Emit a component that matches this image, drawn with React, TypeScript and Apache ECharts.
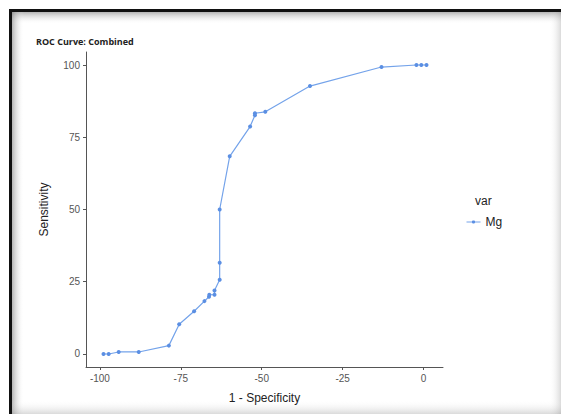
import React, { useEffect, useRef } from "react";
import * as echarts from "echarts";

const specificity = [-98.9, -97.3, -94.2, -88.0, -78.7, -75.5, -70.9, -67.7, -66.3, -66.2, -64.6, -64.6, -63.0, -63.0, -63.0, -59.9, -53.6, -52.1, -52.1, -48.9, -35.1, -13.0, -2.2, -0.7, 0.9];
const sensitivity = [0, 0, 0.7, 0.7, 2.9, 10.3, 14.8, 18.3, 19.8, 20.5, 20.5, 22.0, 25.7, 31.6, 50.0, 68.4, 78.7, 82.6, 83.3, 83.8, 92.7, 99.3, 100, 100, 100];
const xTicks = [-100, -75, -50, -25, 0];
const yTicks = [0, 25, 50, 75, 100];
const seriesName = "Mg";

export default function App() {
  const ref = useRef<HTMLDivElement>(null);
  useEffect(() => {
    document.body.style.margin = "0";
    const chart = echarts.init(ref.current!, null, { renderer: "svg" });
    const data = specificity.map((x, i) => [x, sensitivity[i]]);
    const lineColor = "#74a3ea";
    const grad = (x1: number, y1: number, x2: number, y2: number, c: string) =>
      new echarts.graphic.LinearGradient(x1, y1, x2, y2, [
        { offset: 0, color: c },
        { offset: 1, color: "rgba(255,255,255,0)" },
      ]);
    chart.setOption({
      animation: false,
      backgroundColor: "#ffffff",
      title: {
        text: "ROC Curve: Combined",
        left: 31,
        top: 32,
        textStyle: { fontFamily: "Open Sans", fontWeight: "bold", fontSize: 9, color: "#222" },
      },
      grid: { left: 86, right: 118, top: 52, bottom: 47 },
      legend: {
        data: [seriesName],
        left: 461,
        top: 211,
        itemWidth: 14,
        itemHeight: 4,
        itemGap: 4,
        lineStyle: { width: 1 },
        textStyle: { fontFamily: "Liberation Sans", fontSize: 12, color: "#222" },
      },
      xAxis: {
        type: "value",
        min: -104.3,
        max: 6,
        name: "1 - Specificity",
        nameLocation: "middle",
        nameGap: 25,
        nameTextStyle: { fontFamily: "Liberation Sans", fontSize: 12, color: "#222" },
        splitLine: { show: false },
        axisLine: { show: true, onZero: false, lineStyle: { color: "#555", width: 1 } },
        axisTick: { show: true, customValues: xTicks, length: 3, lineStyle: { color: "#555" } },
        axisLabel: { customValues: xTicks, fontFamily: "Liberation Sans", fontSize: 10, color: "#555", margin: 6 },
      },
      yAxis: {
        type: "value",
        min: -4.5,
        max: 104.5,
        name: "Sensitivity",
        nameLocation: "middle",
        nameGap: 36,
        nameRotate: 90,
        nameTextStyle: { fontFamily: "Liberation Sans", fontSize: 12, color: "#222" },
        splitLine: { show: false },
        axisLine: { show: true, onZero: false, lineStyle: { color: "#555", width: 1 } },
        axisTick: { show: true, customValues: yTicks, length: 3, lineStyle: { color: "#555" } },
        axisLabel: { customValues: yTicks, fontFamily: "Liberation Sans", fontSize: 10, color: "#555", margin: 6 },
      },
      series: [
        {
          name: seriesName,
          type: "line",
          data,
          symbol: "circle",
          symbolSize: 4,
          lineStyle: { color: lineColor, width: 1.2 },
          itemStyle: { color: "#5b8fe3" },
        },
      ],
      graphic: [
        { type: "rect", shape: { x: 12, y: 12, width: 549, height: 12 }, style: { fill: grad(0, 0, 0, 1, "rgba(120,120,120,0.55)") }, silent: true },
        { type: "rect", shape: { x: 12, y: 12, width: 12, height: 402 }, style: { fill: grad(0, 0, 1, 0, "rgba(120,120,120,0.55)") }, silent: true },
        { type: "rect", shape: { x: 549, y: 12, width: 12, height: 402 }, style: { fill: grad(1, 0, 0, 0, "rgba(150,150,150,0.35)") }, silent: true },
        { type: "rect", shape: { x: 12, y: 400, width: 549, height: 14 }, style: { fill: grad(0, 1, 0, 0, "rgba(150,150,150,0.35)") }, silent: true },
        { type: "rect", shape: { x: 9, y: 9, width: 552, height: 3 }, style: { fill: "#111" }, silent: true },
        { type: "rect", shape: { x: 9, y: 9, width: 3, height: 405 }, style: { fill: "#111" }, silent: true },
        { type: "text", left: 475, top: 195, style: { text: "var", fontFamily: "Liberation Sans", fontSize: 12, fill: "#222" } },
      ],
    });
    return () => chart.dispose();
  }, []);
  return <div ref={ref} style={{ position: "fixed", left: 0, top: 0, width: 561, height: 414 }} />;
}
